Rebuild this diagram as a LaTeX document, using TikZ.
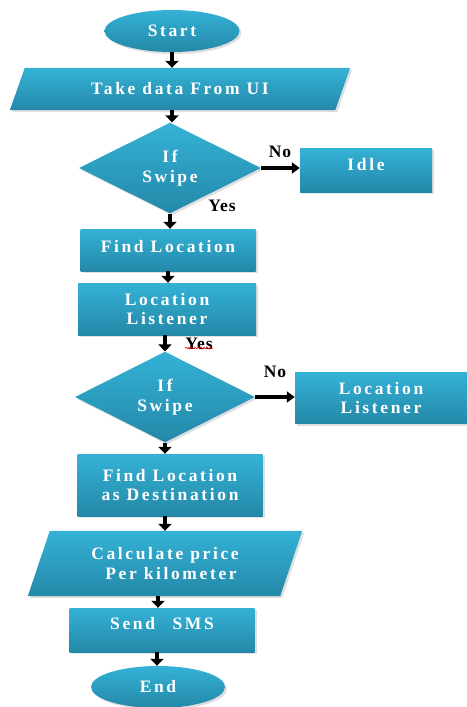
\documentclass[tikz,border=0pt]{standalone}
\usepackage{fontspec}
\setmainfont{Liberation Serif}
\newfontfamily\boxfont{Liberation Serif}[LetterSpace=15]
\newfontfamily\labfont{Liberation Serif}[LetterSpace=6]
\usetikzlibrary{shapes.geometric,arrows.meta,shadows,decorations.pathmorphing}
\pgfdeclarelayer{bg}
\pgfsetlayers{bg,main}
\definecolor{cTop}{RGB}{52,178,214}
\definecolor{cBot}{RGB}{36,136,168}
\begin{document}
\begin{tikzpicture}[x=1pt,y=-1pt,
  fillc/.style={top color=cTop, bottom color=cBot, draw=none,
    drop shadow={opacity=0.25,shadow xshift=2pt,shadow yshift=-2pt}},
  txt/.style={text=white, font=\boxfont\bfseries\fontsize{17.5}{19.5}\selectfont, align=center},
  proc/.style={rectangle, fillc, txt, inner sep=0pt},
  term/.style={ellipse, fillc, txt, inner sep=0pt},
  dec/.style={diamond, fillc, txt, inner sep=0pt},
  io/.style={rectangle, txt, inner sep=0pt},
  arr/.style={line width=4.5pt, -{Triangle[width=13pt,length=7pt]}},
  harr/.style={line width=3.5pt, -{Triangle[width=11pt,length=8pt]}},
  lab/.style={font=\labfont\bfseries\fontsize{17.5}{19}\selectfont, text=black, inner sep=0pt}]
\useasboundingbox (0,0) rectangle (466,707);

\node[term, minimum width=135pt, minimum height=42pt] (start) at (172,31) {Start};
\node[io, minimum width=340pt, minimum height=42pt] (take) at (180,89) {Take data From UI};
\node[dec, minimum width=182pt, minimum height=90pt] (d1) at (170,168) {If\\Swipe};
\node[proc, minimum width=132pt, minimum height=44pt, text depth=12pt] (idle) at (366,170) {Idle};
\node[proc, minimum width=175pt, minimum height=42pt, text depth=8pt] (find) at (168,250) {Find Location};
\node[proc, minimum width=178pt, minimum height=52pt] (ll) at (167,309) {Location\\Listener};
\node[dec, minimum width=180pt, minimum height=90pt] (d2) at (165,397) {If\\Swipe};
\node[proc, minimum width=172pt, minimum height=51pt] (ll2) at (381,398) {Location\\Listener};
\node[proc, minimum width=185pt, minimum height=62pt] (dest) at (170,485) {Find Location\\as Destination};
\node[io, minimum width=274pt, minimum height=65pt] (calc) at (165,563.5) {Calculate price\\\hspace*{12pt}Per kilometer};
\node[proc, minimum width=185pt, minimum height=44pt, text depth=14pt] (sms) at (162,630) {Send\quad SMS};
\node[term, minimum width=134pt, minimum height=42pt] (end) at (158,687) {End};

\begin{pgfonlayer}{bg}
  \path[fillc] ([xshift=15pt]take.north west) -- (take.north east) -- ([xshift=-15pt]take.south east) -- (take.south west) -- cycle;
  \path[fillc] ([xshift=22pt]calc.north west) -- (calc.north east) -- ([xshift=-22pt]calc.south east) -- (calc.south west) -- cycle;
\end{pgfonlayer}

\draw[arr] (start.south) -- (start.south |- take.north);
\draw[arr] ([xshift=-8pt]take.south) -- ([xshift=-8pt]take.south |- d1.north);
\draw[arr] (d1.south) -- (d1.south |- find.north);
\draw[arr] (find.south) -- (find.south |- ll.north);
\draw[arr] ([xshift=-2pt]ll.south) -- ([xshift=-2pt]ll.south |- d2.north);
\draw[arr] (d2.south) -- (d2.south |- dest.north);
\draw[arr] ([xshift=-5pt]dest.south) -- ([xshift=-5pt]dest.south |- calc.north);
\draw[arr] ([xshift=-7pt]calc.south) -- ([xshift=-7pt]calc.south |- sms.north);
\draw[arr] ([xshift=-5pt]sms.south) -- ([xshift=-5pt]sms.south |- end.north);
\draw[harr] (d1.east) -- (d1.east -| idle.west);
\draw[harr] (d2.east) -- (d2.east -| ll2.west);

\node[lab] (no1) at (280,152) {No};
\node[lab] (yes1) at (222,206) {Yes};
\node[lab] (yes2) at (199,344) {Yes};
\node[lab] (no2) at (275,372) {No};
\draw[red, line width=0.6pt, decorate, decoration={snake, amplitude=0.8pt, segment length=3pt}] ([yshift=2pt]yes2.south west) -- ([yshift=2pt]yes2.south east);
\end{tikzpicture}
\end{document}
